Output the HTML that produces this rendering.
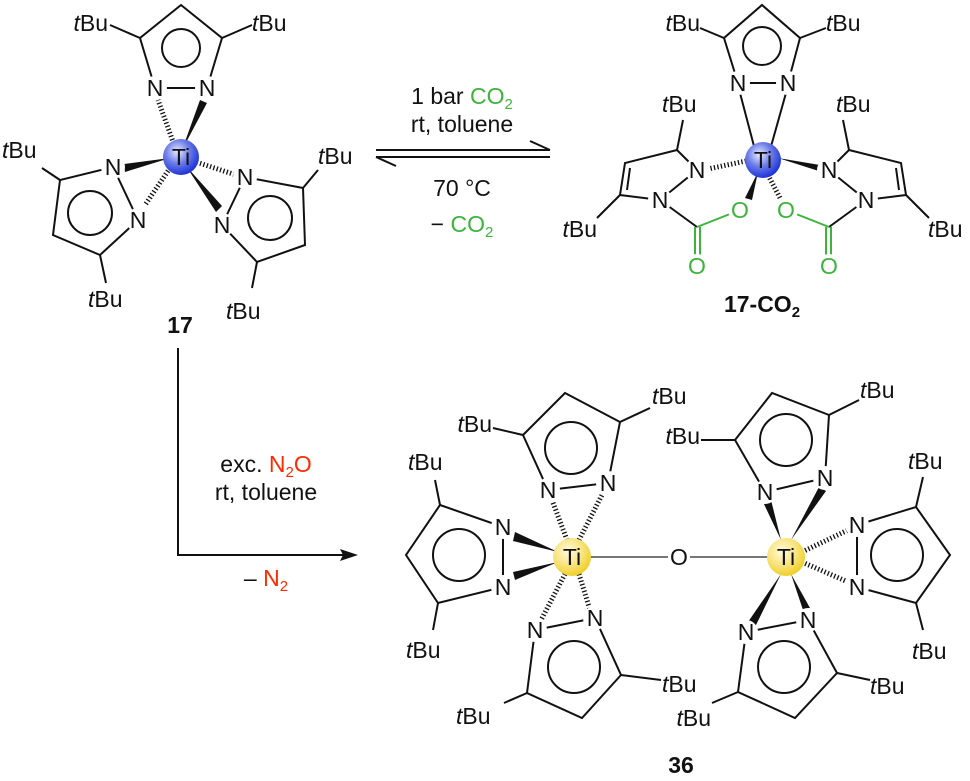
<!DOCTYPE html>
<html><head><meta charset="utf-8"><style>
body{margin:0;background:#fff}
svg{display:block}
text{font-family:"Liberation Sans",Arial,sans-serif;font-size:23px;fill:#111}
.l{stroke:#111;stroke-width:2;fill:none}
.h{stroke:#111;stroke-width:5;stroke-dasharray:1.3 2.2;fill:none}
.g{fill:#3cb43c}
.gl{stroke:#3cb43c;stroke-width:2;fill:none}
.m{text-anchor:middle}
.e{text-anchor:end}
</style></head><body>
<svg width="970" height="781" viewBox="0 0 970 781" xmlns="http://www.w3.org/2000/svg">
<defs>
<radialGradient id="bl" cx="40%" cy="35%" r="65%"><stop offset="0" stop-color="#e8ecff"/><stop offset="0.5" stop-color="#6f7fe8"/><stop offset="1" stop-color="#1f35d8"/></radialGradient>
<radialGradient id="yl" cx="40%" cy="35%" r="65%"><stop offset="0" stop-color="#fffbe0"/><stop offset="0.6" stop-color="#f7e37a"/><stop offset="1" stop-color="#f0cf2a"/></radialGradient>
</defs>

<!-- ===== 17 ===== -->
<g class="l">
<polygon points="155,88 207,88 222,38 181,5 140,38"/>
<circle cx="181" cy="48" r="19"/>
<line x1="140" y1="38" x2="110" y2="25"/><line x1="222" y1="38" x2="252" y2="25"/>
<polygon points="113,167 138,220 100,255 53,235 60,180"/>
<circle cx="90" cy="213" r="22"/>
<line x1="60" y1="180" x2="42" y2="168"/><line x1="100" y1="255" x2="106" y2="283"/>
<polygon points="245,177 222,225 257,262 305,245 303,188"/>
<circle cx="270" cy="218" r="22"/>
<line x1="303" y1="188" x2="318" y2="170"/><line x1="257" y1="262" x2="252" y2="288"/>
</g>
<line class="h" x1="176" y1="150" x2="158" y2="100"/>
<polygon points="182,150 200,100 207,103" fill="#111"/>
<polygon points="170,158 124,164 125,172" fill="#111"/>
<line class="h" x1="172" y1="165" x2="145" y2="205"/>
<line class="h" x1="190" y1="160" x2="236" y2="175"/>
<polygon points="186,166 216,212 222,206" fill="#111"/>
<g fill="#fff">
<circle cx="155" cy="88" r="12"/><circle cx="207" cy="88" r="12"/>
<circle cx="113" cy="167" r="12"/><circle cx="138" cy="220" r="12"/>
<circle cx="245" cy="177" r="12"/><circle cx="222" cy="225" r="12"/>
</g>
<g class="m">
<text x="155" y="96">N</text><text x="207" y="96">N</text>
<text x="113" y="175">N</text><text x="138" y="228">N</text>
<text x="245" y="185">N</text><text x="222" y="233">N</text>
</g>
<circle cx="181" cy="157" r="18" fill="url(#bl)"/>
<text x="181" y="165" class="m" font-size="21">Ti</text>
<text x="108" y="31" class="e"><tspan font-style="italic">t</tspan>Bu</text>
<text x="252" y="31"><tspan font-style="italic">t</tspan>Bu</text>
<text x="2" y="158"><tspan font-style="italic">t</tspan>Bu</text>
<text x="88" y="307"><tspan font-style="italic">t</tspan>Bu</text>
<text x="318" y="164"><tspan font-style="italic">t</tspan>Bu</text>
<text x="226" y="319"><tspan font-style="italic">t</tspan>Bu</text>
<text x="180" y="333" class="m" font-weight="bold">17</text>

<!-- arrows -->
<g class="l">
<line x1="376" y1="150" x2="550" y2="150"/><line x1="550" y1="150" x2="530" y2="141"/>
<line x1="376" y1="157" x2="550" y2="157"/><line x1="376" y1="157" x2="396" y2="166"/>
</g>
<text x="462" y="104" class="m">1 bar <tspan class="g">CO<tspan font-size="15" dy="5">2</tspan></tspan></text>
<text x="462" y="132" class="m">rt, toluene</text>
<text x="462" y="196" class="m">70 °C</text>
<text x="462" y="232" class="m">− <tspan class="g">CO<tspan font-size="15" dy="5">2</tspan></tspan></text>

<!-- ===== 17-CO2 ===== -->
<g class="l">
<polygon points="738,83 788,83 800,38 762,5 724,38"/>
<circle cx="762" cy="46" r="19"/>
<line x1="724" y1="38" x2="700" y2="28"/><line x1="800" y1="38" x2="826" y2="28"/>
<line x1="755" y1="150" x2="740" y2="93"/><line x1="770" y1="150" x2="786" y2="93"/>
<polyline points="697,170 677,150 625,163 620,195 660,200 697,170"/>
<line x1="630" y1="168" x2="627" y2="190"/>
<line x1="677" y1="150" x2="683" y2="120"/><line x1="620" y1="195" x2="597" y2="218"/>
<line x1="660" y1="200" x2="697" y2="227"/>
<polyline points="829,170 849,150 901,163 906,195 866,200 829,170"/>
<line x1="896" y1="168" x2="899" y2="190"/>
<line x1="849" y1="150" x2="843" y2="120"/><line x1="906" y1="195" x2="929" y2="218"/>
<line x1="866" y1="200" x2="829" y2="227"/>
</g>
<g class="gl">
<line x1="697" y1="227" x2="740" y2="210"/><line x1="695" y1="227" x2="695" y2="258"/><line x1="700" y1="227" x2="700" y2="258"/>
<line x1="829" y1="227" x2="786" y2="210"/><line x1="826" y1="227" x2="826" y2="258"/><line x1="831" y1="227" x2="831" y2="258"/>
</g>
<line class="h" x1="746" y1="161" x2="708" y2="169"/>
<polygon points="778,158 826,166 825,173" fill="#111"/>
<polygon points="758,172 745,198 752,200" fill="#111"/>
<line class="h" x1="768" y1="175" x2="780" y2="198"/>
<g fill="#fff">
<circle cx="738" cy="83" r="12"/><circle cx="788" cy="83" r="12"/>
<circle cx="697" cy="170" r="12"/><circle cx="660" cy="200" r="12"/>
<circle cx="829" cy="170" r="12"/><circle cx="866" cy="200" r="12"/>
<circle cx="740" cy="210" r="12"/><circle cx="697" cy="266" r="12"/>
<circle cx="786" cy="210" r="12"/><circle cx="829" cy="266" r="12"/>
</g>
<g class="m">
<text x="738" y="91">N</text><text x="788" y="91">N</text>
<text x="697" y="178">N</text><text x="660" y="208">N</text>
<text x="829" y="178">N</text><text x="866" y="208">N</text>
<text x="740" y="218" class="g">O</text><text x="697" y="274" class="g">O</text>
<text x="786" y="218" class="g">O</text><text x="829" y="274" class="g">O</text>
</g>
<circle cx="763" cy="160" r="18" fill="url(#bl)"/>
<text x="763" y="168" class="m" font-size="21">Ti</text>
<text x="662" y="112"><tspan font-style="italic">t</tspan>Bu</text>
<text x="836" y="112"><tspan font-style="italic">t</tspan>Bu</text>
<text x="597" y="237" class="e"><tspan font-style="italic">t</tspan>Bu</text>
<text x="928" y="237"><tspan font-style="italic">t</tspan>Bu</text>
<text x="700" y="31" class="e"><tspan font-style="italic">t</tspan>Bu</text>
<text x="826" y="31"><tspan font-style="italic">t</tspan>Bu</text>
<text x="762" y="312" class="m" font-weight="bold">17-CO<tspan font-size="15" dy="5">2</tspan></text>

<!-- bottom arrow -->
<g class="l"><polyline points="178,348 178,555 352,555"/></g>
<polygon points="358,555 340,549 343,555 340,561" fill="#111"/>
<text x="266" y="472" class="m">exc. <tspan fill="#ff2a00">N<tspan font-size="15" dy="5">2</tspan><tspan dy="-5">O</tspan></tspan></text>
<text x="266" y="500" class="m">rt, toluene</text>
<text x="266" y="586" class="m">– <tspan fill="#ff2a00">N<tspan font-size="15" dy="5">2</tspan></tspan></text>

<!-- ===== 36 ===== -->
<line x1="590" y1="557" x2="668" y2="557" stroke="#777" stroke-width="2"/>
<line x1="690" y1="557" x2="768" y2="557" stroke="#777" stroke-width="2"/>
<g class="l">
<polygon points="548,490 608,483 620,422 565,393 523,435"/>
<circle cx="571" cy="448" r="26"/>
<line x1="523" y1="435" x2="493" y2="428"/><line x1="620" y1="422" x2="650" y2="408"/>
<polygon points="503,527 503,587 438,603 406,555 440,505"/>
<circle cx="459" cy="555" r="26"/>
<line x1="440" y1="505" x2="435" y2="480"/><line x1="438" y1="603" x2="433" y2="630"/>
<polygon points="535,630 595,618 621,675 582,718 527,693"/>
<circle cx="574" cy="667" r="26"/>
<line x1="621" y1="675" x2="661" y2="680"/><line x1="527" y1="693" x2="504" y2="703"/>
<polygon points="765,492 825,478 829,415 772,393 735,440"/>
<circle cx="786" cy="440" r="26"/>
<line x1="735" y1="440" x2="701" y2="440"/><line x1="829" y1="415" x2="859" y2="400"/>
<polygon points="857,525 857,587 916,603 950,555 916,507"/>
<circle cx="897" cy="555" r="26"/>
<line x1="916" y1="507" x2="923" y2="477"/><line x1="916" y1="603" x2="923" y2="630"/>
<polygon points="746,632 808,620 837,673 795,718 738,692"/>
<circle cx="784" cy="667" r="26"/>
<line x1="837" y1="673" x2="870" y2="680"/><line x1="738" y1="692" x2="712" y2="703"/>
</g>
<line class="h" x1="567" y1="540" x2="552" y2="500"/>
<line class="h" x1="579" y1="540" x2="603" y2="493"/>
<polygon points="558,552 515,532 513,541" fill="#111"/>
<polygon points="558,562 515,580 513,572" fill="#111"/>
<line class="h" x1="565" y1="574" x2="540" y2="622"/>
<line class="h" x1="579" y1="574" x2="590" y2="610"/>
<polygon points="781,540 763,502 771,500" fill="#111"/>
<polygon points="791,540 819,487 826,491" fill="#111"/>
<line class="h" x1="802" y1="552" x2="848" y2="530"/>
<line class="h" x1="802" y1="562" x2="848" y2="582"/>
<polygon points="781,574 748,622 756,625" fill="#111"/>
<polygon points="791,574 803,610 810,608" fill="#111"/>
<g fill="#fff">
<circle cx="548" cy="490" r="12"/><circle cx="608" cy="483" r="12"/>
<circle cx="503" cy="527" r="12"/><circle cx="503" cy="587" r="12"/>
<circle cx="535" cy="630" r="12"/><circle cx="595" cy="618" r="12"/>
<circle cx="765" cy="492" r="12"/><circle cx="825" cy="478" r="12"/>
<circle cx="857" cy="525" r="12"/><circle cx="857" cy="587" r="12"/>
<circle cx="746" cy="632" r="12"/><circle cx="808" cy="620" r="12"/>
</g>
<g class="m">
<text x="548" y="498">N</text><text x="608" y="491">N</text>
<text x="503" y="535">N</text><text x="503" y="595">N</text>
<text x="535" y="638">N</text><text x="595" y="626">N</text>
<text x="765" y="500">N</text><text x="825" y="486">N</text>
<text x="857" y="533">N</text><text x="857" y="595">N</text>
<text x="746" y="640">N</text><text x="808" y="628">N</text>
</g>
<circle cx="572" cy="557" r="19" fill="url(#yl)"/>
<circle cx="786" cy="557" r="19" fill="url(#yl)"/>
<text x="572" y="565" class="m" font-size="21">Ti</text>
<text x="786" y="565" class="m" font-size="21">Ti</text>
<text x="679" y="565" class="m" fill="#ff2a00">O</text>
<text x="492" y="432" class="e"><tspan font-style="italic">t</tspan>Bu</text>
<text x="652" y="404"><tspan font-style="italic">t</tspan>Bu</text>
<text x="408" y="470"><tspan font-style="italic">t</tspan>Bu</text>
<text x="406" y="658"><tspan font-style="italic">t</tspan>Bu</text>
<text x="662" y="692"><tspan font-style="italic">t</tspan>Bu</text>
<text x="456" y="724"><tspan font-style="italic">t</tspan>Bu</text>
<text x="700" y="444" class="e"><tspan font-style="italic">t</tspan>Bu</text>
<text x="860" y="398"><tspan font-style="italic">t</tspan>Bu</text>
<text x="908" y="469"><tspan font-style="italic">t</tspan>Bu</text>
<text x="912" y="659"><tspan font-style="italic">t</tspan>Bu</text>
<text x="870" y="694"><tspan font-style="italic">t</tspan>Bu</text>
<text x="711" y="726" class="e"><tspan font-style="italic">t</tspan>Bu</text>
<text x="681" y="773" class="m" font-weight="bold">36</text>
</svg>
</body></html>
